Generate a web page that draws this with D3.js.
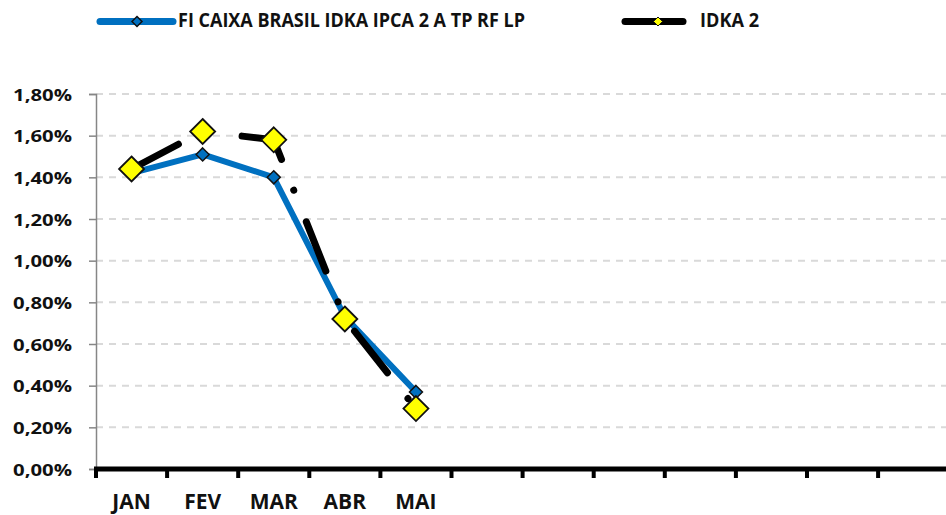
<!DOCTYPE html>
<html>
<head>
<meta charset="utf-8">
<script src="https://cdn.jsdelivr.net/npm/d3@7"></script>
<style>
  body { margin: 0; background: #fff; }
  svg { display: block; font-family: "Open Sans", sans-serif; font-weight: bold; }
</style>
</head>
<body>
<div id="chart"></div>
<script>
// data (values in %)
var MONTHS = ['JAN', 'FEV', 'MAR', 'ABR', 'MAI', 'JUN', 'JUL', 'AGO', 'SET', 'OUT', 'NOV', 'DEZ'];
var FUNDO = [1.42, 1.51, 1.40, 0.73, 0.37];
var IDKA = [1.44, 1.62, 1.58, 0.72, 0.29];
var Y_TICKS = [0, 0.2, 0.4, 0.6, 0.8, 1.0, 1.2, 1.4, 1.6, 1.8];
var NAME_FUNDO = 'FI CAIXA BRASIL IDKA IPCA 2 A TP RF LP';
var NAME_IDKA = 'IDKA 2';

var W = 946, H = 515;
var plotLeft = 96, plotBottom = 469, plotTop = 94;
var step = 71.1;

var ptBR = d3.formatLocale({decimal: ',', thousands: '.', grouping: [3], currency: ['R$', '']});
var fmt = function(v) { return ptBR.format('.2f')(v) + '%'; };

var svg = d3.select('#chart').append('svg')
    .attr('width', W)
    .attr('height', H);

var x = d3.scaleBand().domain(MONTHS).range([plotLeft, plotLeft + step * MONTHS.length]);
var y = d3.scaleLinear().domain([0, 1.8]).range([plotBottom, plotTop]);

// gridlines
svg.append('g')
  .selectAll('line')
  .data(Y_TICKS.slice(1))
  .join('line')
    .attr('x1', plotLeft)
    .attr('x2', W)
    .attr('y1', function(d) { return y(d); })
    .attr('y2', function(d) { return y(d); })
    .attr('stroke', '#d9d9d9')
    .attr('stroke-width', 2)
    .attr('stroke-dasharray', '7,6');

// y axis
var yAxis = svg.append('g')
    .attr('transform', 'translate(' + plotLeft + ',0)')
    .call(d3.axisLeft(y).tickValues(Y_TICKS).tickFormat(fmt).tickSize(7).tickPadding(17));
yAxis.select('.domain').attr('stroke', '#868686').attr('stroke-width', 1.5);
yAxis.selectAll('.tick line').attr('stroke', '#868686').attr('stroke-width', 1.5);
yAxis.selectAll('.tick text')
    .attr('fill', '#111')
    .style('font-size', '16px')
    .style('font-family', '"Open Sans", sans-serif')
    .style('font-weight', 'bold')
    .attr('dy', '0.38em')
    .attr('textLength', 59)
    .attr('lengthAdjust', 'spacingAndGlyphs');

// x axis
svg.append('line')
    .attr('x1', plotLeft - 2)
    .attr('x2', W)
    .attr('y1', plotBottom)
    .attr('y2', plotBottom)
    .attr('stroke', '#000')
    .attr('stroke-width', 5);

svg.append('g')
  .selectAll('line')
  .data(MONTHS)
  .join('line')
    .attr('x1', function(d) { return x(d); })
    .attr('x2', function(d) { return x(d); })
    .attr('y1', plotBottom)
    .attr('y2', plotBottom + 9)
    .attr('stroke', '#000')
    .attr('stroke-width', 4);

svg.append('g')
  .selectAll('text')
  .data(MONTHS.slice(0, FUNDO.length))
  .join('text')
    .attr('x', function(d) { return x(d) + x.bandwidth() / 2; })
    .attr('y', 509)
    .attr('text-anchor', 'middle')
    .style('font-size', '21px')
    .attr('fill', '#111')
    .text(function(d) { return d; });

function diamond(sel, r, fill, sw) {
  sel.attr('d', 'M0,' + (-r) + 'L' + r + ',0L0,' + r + 'L' + (-r) + ',0Z')
    .attr('fill', fill)
    .attr('stroke', '#111')
    .attr('stroke-width', sw);
}

var cx = function(d, i) { return x(MONTHS[i]) + x.bandwidth() / 2; };
var valueline = d3.line().x(cx).y(function(d) { return y(d); });

// series 1: fund
svg.append('path')
    .datum(FUNDO)
    .attr('d', valueline)
    .attr('fill', 'none')
    .attr('stroke', '#0070c0')
    .attr('stroke-width', 6)
    .attr('stroke-linejoin', 'round')
    .attr('stroke-linecap', 'round');

svg.append('g')
  .selectAll('path')
  .data(FUNDO)
  .join('path')
    .attr('transform', function(d, i) { return 'translate(' + cx(d, i) + ',' + y(d) + ')'; })
    .call(diamond, 6.5, '#0070c0', 1.5);

// series 2: IDKA 2 (long dash dot)
svg.append('path')
    .datum(IDKA)
    .attr('d', valueline)
    .attr('fill', 'none')
    .attr('stroke', '#000')
    .attr('stroke-width', 7)
    .attr('stroke-linecap', 'round')
    .attr('stroke-linejoin', 'round')
    .attr('stroke-dasharray', '53,33,0.1,34');

svg.append('g')
  .selectAll('path')
  .data(IDKA)
  .join('path')
    .attr('transform', function(d, i) { return 'translate(' + cx(d, i) + ',' + y(d) + ')'; })
    .call(diamond, 12.5, '#ffff00', 1.8);

// legend
var leg = svg.append('g');
leg.append('line')
    .attr('x1', 100).attr('x2', 173).attr('y1', 21.5).attr('y2', 21.5)
    .attr('stroke', '#0070c0').attr('stroke-width', 7).attr('stroke-linecap', 'round');
leg.append('path')
    .attr('transform', 'translate(137,21.5)')
    .call(diamond, 5, '#0070c0', 1.5);
leg.append('text')
    .attr('x', 178).attr('y', 27)
    .style('font-size', '19px')
    .attr('fill', '#111')
    .attr('textLength', 347)
    .attr('lengthAdjust', 'spacingAndGlyphs')
    .text(NAME_FUNDO);

leg.append('line')
    .attr('x1', 625).attr('x2', 683).attr('y1', 21.5).attr('y2', 21.5)
    .attr('stroke', '#000').attr('stroke-width', 7).attr('stroke-linecap', 'round');
leg.append('path')
    .attr('transform', 'translate(658,21.5)')
    .call(diamond, 4.5, '#ffff00', 1);
leg.append('text')
    .attr('x', 700).attr('y', 27)
    .style('font-size', '19px')
    .attr('fill', '#111')
    .attr('textLength', 59)
    .attr('lengthAdjust', 'spacingAndGlyphs')
    .text(NAME_IDKA);
</script>
</body>
</html>
